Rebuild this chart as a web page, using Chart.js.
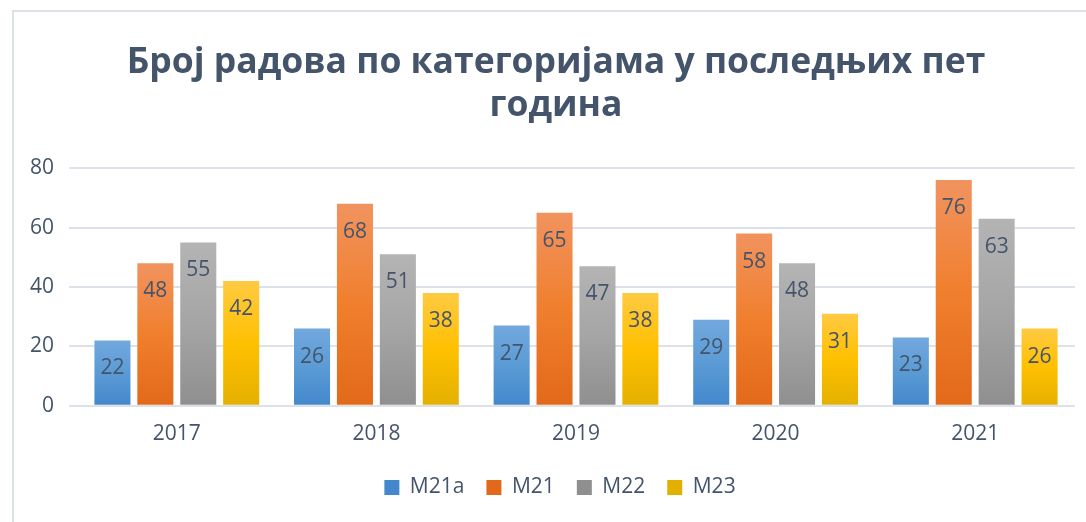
<!DOCTYPE html>
<html>
<head>
<meta charset="utf-8">
<script src="https://cdn.jsdelivr.net/npm/chart.js@4/dist/chart.umd.min.js"></script>
<style>
  html, body { margin: 0; padding: 0; background: #fff; }
  #wrap { position: relative; width: 1086px; height: 522px; }
  #frame { position: absolute; left: 12px; top: 10px; right: -10px; bottom: -10px;
           border-left: 2px solid #dde2ea; border-top: 2px solid #dde2ea; }
  canvas { position: absolute; left: 0; top: 0; }
</style>
</head>
<body>
<div id="wrap">
  <div id="frame"></div>
  <canvas id="barChart" width="1086" height="522"></canvas>
</div>
<script>
// podaci
const years = ["2017", "2018", "2019", "2020", "2021"];
const seriesNames = ["M21a", "M21", "M22", "M23"];
const m21a = [22, 26, 27, 29, 23];
const m21 = [48, 68, 65, 58, 76];
const m22 = [55, 51, 47, 48, 63];
const m23 = [42, 38, 38, 31, 26];
const yTicks = [0, 20, 40, 60, 80];

const textColor = "#44546a";

// boje gradijenta: gore, sredina, dole
const palette = [
  ["#72a8de", "#5b9bd5", "#4388cc"],
  ["#f1935f", "#f07f2d", "#e2691a"],
  ["#b4b4b4", "#a5a5a5", "#8f8f8f"],
  ["#ffca42", "#ffc000", "#e4b000"],
];

function barFill(idx) {
  return function (ctx) {
    const chart = ctx.chart;
    const c = palette[idx];
    if (ctx.type !== "data" || !chart.chartArea || !chart.scales.y) return c[1];
    const top = chart.scales.y.getPixelForValue(ctx.raw);
    const bottom = chart.scales.y.getPixelForValue(0);
    const g = chart.ctx.createLinearGradient(0, top, 0, bottom);
    g.addColorStop(0, c[0]);
    g.addColorStop(0.5, c[1]);
    g.addColorStop(1, c[2]);
    return g;
  };
}

// brojevi unutar stubića
const barLabels = {
  id: "barLabels",
  afterDatasetsDraw(chart) {
    const ctx = chart.ctx;
    ctx.save();
    ctx.font = "21px 'Open Sans'";
    ctx.fillStyle = textColor;
    ctx.textAlign = "center";
    ctx.textBaseline = "middle";
    chart.data.datasets.forEach((ds, i) => {
      chart.getDatasetMeta(i).data.forEach((bar, j) => {
        ctx.fillText(ds.data[j], bar.x, bar.y + 28);
      });
    });
    ctx.restore();
  },
};

// naslov i legenda su u originalu malo pomereni udesno
const shiftBlocks = {
  id: "shiftBlocks",
  afterLayout(chart) {
    if (chart.titleBlock) chart.titleBlock.left += 22;
    if (chart.legend) chart.legend.left += 30;
  },
};

const allSeries = [m21a, m21, m22, m23];

new Chart(document.getElementById("barChart").getContext("2d"), {
  type: "bar",
  data: {
    labels: years,
    datasets: allSeries.map((d, i) => ({
      label: seriesNames[i],
      data: d,
      backgroundColor: barFill(i),
      categoryPercentage: 0.86,
      barPercentage: 0.84,
    })),
  },
  options: {
    responsive: false,
    animation: false,
    layout: { padding: { left: 15, right: 11, top: 10, bottom: 14 } },
    plugins: {
      title: {
        display: true,
        text: ["Број радова по категоријама у последњих пет", "година"],
        color: textColor,
        font: { family: "'Open Sans'", size: 35.5, weight: "bold" },
        lineHeight: 1.4,
        padding: { top: 32, bottom: 41 },
      },
      legend: {
        position: "bottom",
        labels: {
          color: textColor,
          font: { family: "'Open Sans'", size: 21 },
          boxWidth: 15,
          boxHeight: 15,
          padding: 22,
        },
      },
      tooltip: { enabled: false },
    },
    scales: {
      x: {
        grid: { display: false },
        border: { display: false },
        ticks: { color: textColor, font: { family: "'Open Sans'", size: 21 }, padding: 8 },
      },
      y: {
        min: 0,
        max: 80,
        afterBuildTicks(axis) {
          axis.ticks = yTicks.map((v) => ({ value: v }));
        },
        grid: { color: "#dde2ea", lineWidth: 2 },
        border: { display: false },
        ticks: { color: textColor, font: { family: "'Open Sans'", size: 21 }, padding: 15 },
      },
    },
  },
  plugins: [barLabels, shiftBlocks],
});
</script>
</body>
</html>
